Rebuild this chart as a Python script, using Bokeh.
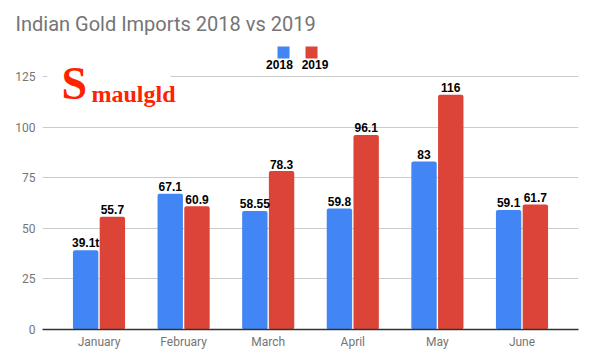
from bokeh.plotting import figure
from bokeh.models import ColumnDataSource, FactorRange, Range1d, FixedTicker
from bokeh.transform import dodge
from bokeh.core.properties import value
from bokeh.embed import file_html
from bokeh.resources import INLINE

months = ["January", "February", "March", "April", "May", "June"]
imports_2018 = [39.1, 67.1, 58.55, 59.8, 83, 59.1]
imports_2019 = [55.7, 60.9, 78.3, 96.1, 116, 61.7]
labels_2018 = ["39.1t", "67.1", "58.55", "59.8", "83", "59.1"]
labels_2019 = ["55.7", "60.9", "78.3", "96.1", "116", "61.7"]
series_names = ["2018", "2019"]
y_ticks = [0, 25, 50, 75, 100, 125]

BLUE = "#4285F4"
RED = "#DB4437"
GRAY = "#757575"

src = ColumnDataSource(dict(month=months, y18=imports_2018, y19=imports_2019,
                            l18=labels_2018, l19=labels_2019))

p = figure(width=590, height=358, output_backend="svg", toolbar_location=None,
           x_range=FactorRange(factors=months, range_padding=0.168,
                               range_padding_units="absolute"),
           y_range=Range1d(0, 145.26),
           min_border_left=42, min_border_right=12, min_border_bottom=29,
           min_border_top=35)

p.title.text = "Indian Gold Imports 2018 vs 2019"
p.title.text_font = "Roboto"
p.title.text_font_size = "20px"
p.title.text_font_style = "normal"
p.title.text_color = GRAY
p.title.align = "left"
p.title.offset = -27
p.title.standoff = 0

p.outline_line_color = None
p.background_fill_color = "white"
p.xgrid.grid_line_color = None
p.ygrid.grid_line_color = "#cccccc"
p.ygrid.grid_line_width = 1

p.yaxis.ticker = FixedTicker(ticks=y_ticks)
p.yaxis.axis_line_color = None
p.yaxis.major_tick_line_color = None
p.yaxis.minor_tick_line_color = None
p.yaxis.major_tick_out = 0
p.yaxis.major_tick_in = 0
p.yaxis.major_label_standoff = 7
p.yaxis.major_label_text_font = "Roboto"
p.yaxis.major_label_text_font_size = "12px"
p.yaxis.major_label_text_color = GRAY

p.xaxis.axis_line_color = "#333333"
p.xaxis.axis_line_width = 1.5
p.xaxis.major_tick_line_color = None
p.xaxis.minor_tick_line_color = None
p.xaxis.major_tick_out = 0
p.xaxis.major_tick_in = 0
p.xaxis.major_label_standoff = 5
p.xaxis.major_label_text_font = "Roboto"
p.xaxis.major_label_text_font_size = "12px"
p.xaxis.major_label_text_color = GRAY

off = 0.158
bw = 0.3
p.vbar(x=dodge("month", -off, range=p.x_range), top="y18", width=bw, source=src,
       fill_color=BLUE, line_color=None, border_radius=2)
p.vbar(x=dodge("month", off, range=p.x_range), top="y19", width=bw, source=src,
       fill_color=RED, line_color=None, border_radius=2)

for col, lab, o in (("y18", "l18", -off), ("y19", "l19", off)):
    p.text(x=dodge("month", o, range=p.x_range), y=col, text=lab, source=src,
           text_align="center", text_baseline="alphabetic", y_offset=-7,
           text_font=value("Liberation Sans"), text_font_style="bold",
           text_font_size="12px", text_color="black")

# legend (square above label)
p.scatter(x=[2.681, 3.012], y=[136.9, 136.9], marker="square", size=12,
          fill_color=[BLUE, RED], line_color=None)
p.text(x=[2.633, 3.053], y=[131.1, 131.1], text=series_names,
       text_align="center", text_baseline="middle",
       text_font=value("Liberation Sans"), text_font_style="bold",
       text_font_size="12px", text_color="black")

# logo
p.quad(left=[-0.109], right=[1.345], bottom=[113.1], top=[129.0],
       fill_color="white", line_color=None)
p.text(x=[0.0566], y=[121.5], text=["S"], text_align="left",
       text_baseline="middle", text_font=value("Liberation Serif"),
       text_font_style="bold", text_font_size="46px", text_color="#FF2200")
p.text(x=[0.411], y=[116.6], text=["maulgld"], text_align="left",
       text_baseline="alphabetic", text_font=value("Liberation Serif"),
       text_font_style="bold", text_font_size="24px", text_color="#FF2200")

open("out.html", "w").write(file_html(p, INLINE))
